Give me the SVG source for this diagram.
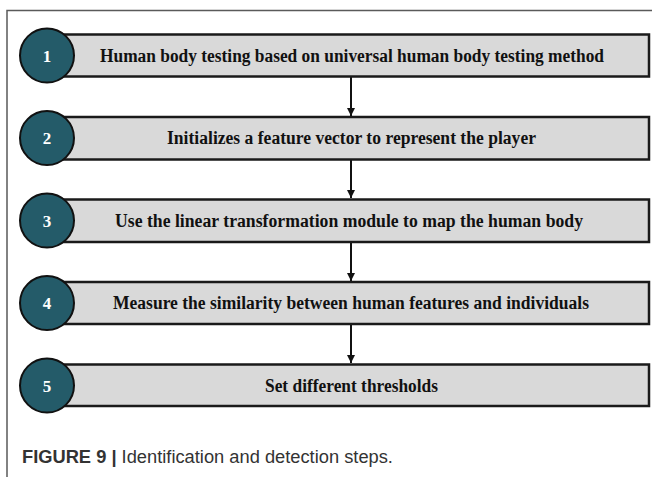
<svg xmlns="http://www.w3.org/2000/svg" width="652" height="477" viewBox="0 0 652 477">
  <style>
    .frame { fill: none; stroke: #5a5a5a; stroke-width: 1.5; }
    .box { fill: #d9d9d9; stroke: #1a1a1a; stroke-width: 2.5; }
    .dot { fill: #245b69; stroke: #111; stroke-width: 2; }
    .num { font-family: "Liberation Serif", "Times New Roman", serif; font-weight: bold; font-size: 17px; fill: #ffffff; text-anchor: middle; }
    .lbl { font-family: "Liberation Serif", "Times New Roman", serif; font-weight: bold; font-size: 18px; fill: #111; text-anchor: middle; }
    .link { stroke: #111; stroke-width: 2; fill: none; marker-end: url(#arrow); }
    .cap { font-family: "Liberation Sans", Arial, sans-serif; font-size: 18.3px; fill: #333; }
  </style>
  <defs>
    <marker id="arrow" viewBox="0 0 10 10" refX="10" refY="5" markerWidth="4" markerHeight="5" orient="auto" markerUnits="strokeWidth">
      <path d="M0,0 L10,5 L0,10 z" fill="#111"/>
    </marker>
  </defs>

  <!-- open frame: top and left edges -->
  <path class="frame" d="M7,477 V10.5 H652"/>

  <!-- connectors -->
  <g id="connectors">
    <line class="link" x1="351" y1="77" x2="351" y2="116"/>
    <line class="link" x1="351" y1="160" x2="351" y2="198"/>
    <line class="link" x1="351" y1="242" x2="351" y2="281"/>
    <line class="link" x1="351" y1="324" x2="351" y2="363"/>
  </g>

  <g id="step1">
    <rect class="box" x="55" y="34.5" width="594" height="42"/>
    <circle class="dot" cx="47" cy="55.5" r="27"/>
    <text class="num" x="47" y="61.5">1</text>
    <text class="lbl" x="352" y="61.5" textLength="504" lengthAdjust="spacingAndGlyphs">Human body testing based on universal human body testing method</text>
  </g>

  <g id="step2">
    <rect class="box" x="55" y="117" width="594" height="42.5"/>
    <circle class="dot" cx="47" cy="138" r="27"/>
    <text class="num" x="47" y="144">2</text>
    <text class="lbl" x="351.5" y="144" textLength="369" lengthAdjust="spacingAndGlyphs">Initializes a feature vector to represent the player</text>
  </g>

  <g id="step3">
    <rect class="box" x="55" y="199.5" width="594" height="42.5"/>
    <circle class="dot" cx="47" cy="220.5" r="27"/>
    <text class="num" x="47" y="226.5">3</text>
    <text class="lbl" x="349" y="226.5" textLength="468" lengthAdjust="spacingAndGlyphs">Use the linear transformation module to map the human body</text>
  </g>

  <g id="step4">
    <rect class="box" x="55" y="282" width="594" height="42"/>
    <circle class="dot" cx="47" cy="303" r="27"/>
    <text class="num" x="47" y="309">4</text>
    <text class="lbl" x="351" y="309" textLength="476" lengthAdjust="spacingAndGlyphs">Measure the similarity between human features and individuals</text>
  </g>

  <g id="step5">
    <rect class="box" x="55" y="364.5" width="594" height="41.5"/>
    <circle class="dot" cx="47" cy="385.5" r="27"/>
    <text class="num" x="47" y="391.5">5</text>
    <text class="lbl" x="351.5" y="391.5" textLength="173" lengthAdjust="spacingAndGlyphs">Set different thresholds</text>
  </g>

  <text class="cap" x="22" y="462.5"><tspan font-weight="bold">FIGURE 9 | </tspan>Identification and detection steps.</text>
</svg>
